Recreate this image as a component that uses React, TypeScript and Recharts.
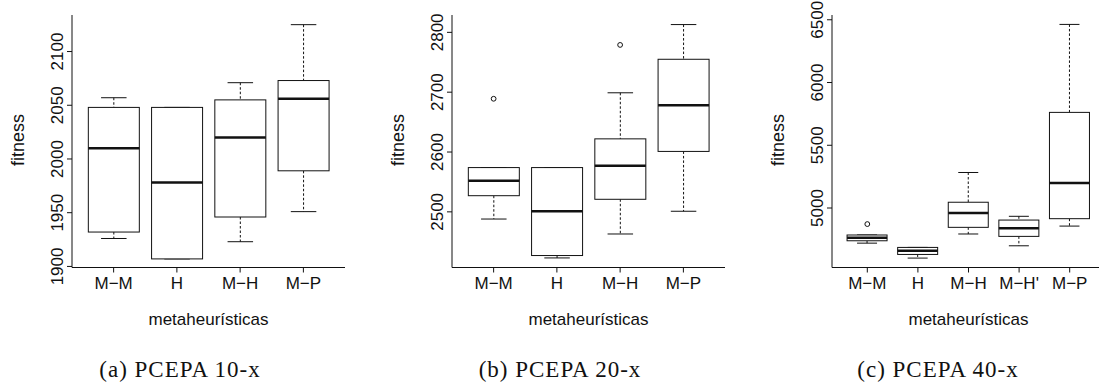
import { Bar, ComposedChart, Scatter, XAxis, YAxis } from "recharts";

// (a) PCEPA 10-x
const catsA = ["M−M", "H", "M−H", "M−P"];
const loA = [1926, 1907, 1923, 1951];
const q1A = [1932, 1907, 1946, 1989];
const medA = [2010, 1978, 2020, 2056];
const q3A = [2048, 2048, 2055, 2073];
const hiA = [2057, 2048, 2071, 2125];
const outA = [null, null, null, null];
const ticksA = [1900, 1950, 2000, 2050, 2100];
const domainA = [1899, 2134];

// (b) PCEPA 20-x
const catsB = ["M−M", "H", "M−H", "M−P"];
const loB = [2488, 2423, 2463, 2501];
const q1B = [2527, 2427, 2521, 2601];
const medB = [2552, 2501, 2577, 2678];
const q3B = [2574, 2574, 2622, 2755];
const hiB = [2574, 2574, 2699, 2813];
const outB = [2689, null, 2779, null];
const ticksB = [2500, 2600, 2700, 2800];
const domainB = [2407, 2829];

// (c) PCEPA 40-x
const catsC = ["M−M", "H", "M−H", "M−H'", "M−P"];
const loC = [4720, 4601, 4793, 4699, 4856];
const q1C = [4739, 4630, 4846, 4774, 4915];
const medC = [4763, 4659, 4960, 4838, 5200];
const q3C = [4785, 4686, 5046, 4904, 5762];
const hiC = [4785, 4686, 5283, 4934, 6463];
const outC = [4872, null, null, null, null];
const ticksC = [5000, 5500, 6000, 6500];
const domainC = [4526, 6538];

const INK = "#111";

function BoxShape(props: any) {
    const { x, y, width, height, payload } = props;
    const top = Math.min(y, y + height);
    const h = Math.abs(height);
    const { lo, q1, med, q3, hi } = payload;
    const py = (v: number) => (hi === lo ? top : top + ((hi - v) / (hi - lo)) * h);
    const cx = x + width / 2;
    const cap = width / 4;
    return (
        <g>
            <line x1={cx} x2={cx} y1={py(hi)} y2={py(q3)} stroke={INK} strokeDasharray="2.5 2" />
            <line x1={cx} x2={cx} y1={py(q1)} y2={py(lo)} stroke={INK} strokeDasharray="2.5 2" />
            <line x1={cx - cap} x2={cx + cap} y1={py(hi)} y2={py(hi)} stroke={INK} />
            <line x1={cx - cap} x2={cx + cap} y1={py(lo)} y2={py(lo)} stroke={INK} />
            <rect x={x} y={py(q3)} width={width} height={py(q1) - py(q3)} fill="#fff" stroke={INK} />
            <line x1={x} x2={x + width} y1={py(med)} y2={py(med)} stroke={INK} strokeWidth={2.5} />
        </g>
    );
}

function OutlierDot(props: any) {
    const { cx, cy, payload } = props;
    if (payload == null || payload.out == null || !Number.isFinite(cy)) return <g />;
    return <circle cx={cx} cy={cy} r={2.4} fill="#fff" stroke={INK} strokeWidth={1} />;
}

function YTick(props: any) {
    const { x, y, payload } = props;
    return (
        <text x={x} y={y} transform={`rotate(-90 ${x} ${y})`} textAnchor="middle" fontSize={17} fill={INK}>
            {payload.value}
        </text>
    );
}

type PanelProps = {
    left: number;
    cats: string[];
    lo: number[];
    q1: number[];
    med: number[];
    q3: number[];
    hi: number[];
    outs: (number | null)[];
    ticks: number[];
    domain: number[];
};

function Panel({ left, cats, lo, q1, med, q3, hi, outs, ticks, domain }: PanelProps) {
    const rows = cats.map((name, i) => ({
        name,
        range: [lo[i], hi[i]],
        lo: lo[i],
        q1: q1[i],
        med: med[i],
        q3: q3[i],
        hi: hi[i],
        out: outs[i],
    }));
    return (
        <div style={{ position: "absolute", left, top: 0 }}>
            <ComposedChart width={360} height={300} data={rows} margin={{ top: 15, right: 15, bottom: 0, left: 0 }} barCategoryGap="10%">
                <XAxis
                    dataKey="name"
                    interval={0}
                    height={32.5}
                    padding={{ left: 10, right: 10 }}
                    tickSize={5}
                    tickMargin={4}
                    tick={{ fontSize: 17, fill: INK }}
                    axisLine={{ stroke: INK }}
                    tickLine={{ stroke: INK }}
                />
                <XAxis
                    xAxisId="top"
                    orientation="top"
                    dataKey="name"
                    height={0}
                    padding={{ left: 10, right: 10 }}
                    tick={false}
                    tickLine={false}
                    axisLine={{ stroke: INK }}
                />
                <YAxis
                    type="number"
                    domain={domain}
                    ticks={ticks}
                    interval={0}
                    allowDataOverflow
                    width={72}
                    tickSize={5}
                    tickMargin={4}
                    tick={<YTick />}
                    axisLine={{ stroke: INK }}
                    tickLine={{ stroke: INK }}
                />
                <YAxis
                    yAxisId="right"
                    orientation="right"
                    type="number"
                    domain={domain}
                    allowDataOverflow
                    width={0}
                    tick={false}
                    tickLine={false}
                    axisLine={{ stroke: INK }}
                />
                <Bar dataKey="range" shape={<BoxShape />} isAnimationActive={false} />
                <Scatter dataKey="out" shape={<OutlierDot />} isAnimationActive={false} />
            </ComposedChart>
        </div>
    );
}

const sans = '"Liberation Sans", Arial, sans-serif';
const serif = '"Liberation Serif", "Times New Roman", serif';

function Txt({ x, y, children, size, family, rotate, spacing }: any) {
    return (
        <div
            style={{
                position: "absolute",
                left: x,
                top: y,
                transform: `translate(-50%, -50%)${rotate ? " rotate(-90deg)" : ""}`,
                fontSize: size,
                fontFamily: family,
                lineHeight: 1,
                whiteSpace: "nowrap",
                letterSpacing: spacing || 0,
                color: INK,
            }}
        >
            {children}
        </div>
    );
}

export default function App() {
    return (
        <div
            style={{
                position: "absolute",
                left: 0,
                top: 0,
                width: 1099,
                height: 383,
                overflow: "hidden",
                background: "#fff",
                fontFamily: sans,
            }}
        >
            <Panel left={0} cats={catsA} lo={loA} q1={q1A} med={medA} q3={q3A} hi={hiA} outs={outA} ticks={ticksA} domain={domainA} />
            <Panel left={380} cats={catsB} lo={loB} q1={q1B} med={medB} q3={q3B} hi={hiB} outs={outB} ticks={ticksB} domain={domainB} />
            <Panel left={760} cats={catsC} lo={loC} q1={q1C} med={medC} q3={q3C} hi={hiC} outs={outC} ticks={ticksC} domain={domainC} />

            <Txt x={18} y={140} size={18} family={sans} rotate>fitness</Txt>
            <Txt x={398} y={140} size={18} family={sans} rotate>fitness</Txt>
            <Txt x={778} y={140} size={18} family={sans} rotate>fitness</Txt>

            <Txt x={208.5} y={319} size={17} family={sans}>metaheurísticas</Txt>
            <Txt x={588.5} y={319} size={17} family={sans}>metaheurísticas</Txt>
            <Txt x={968.5} y={319} size={17} family={sans}>metaheurísticas</Txt>

            <Txt x={180} y={369} size={23} family={serif} spacing={1}>(a) PCEPA 10-x</Txt>
            <Txt x={560} y={369} size={23} family={serif} spacing={1}>(b) PCEPA 20-x</Txt>
            <Txt x={938} y={369} size={23} family={serif} spacing={1}>(c) PCEPA 40-x</Txt>
        </div>
    );
}
